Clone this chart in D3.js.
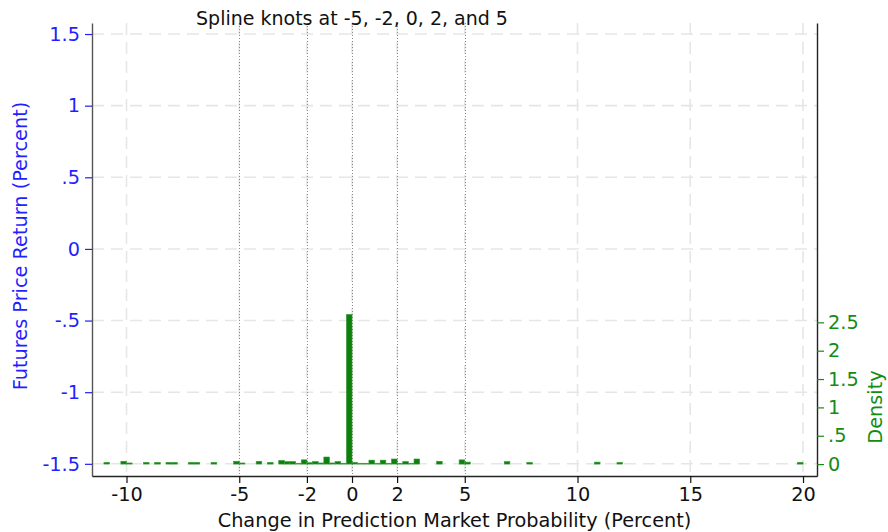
<!DOCTYPE html>
<html>
<head>
<meta charset="utf-8">
<script src="https://cdn.jsdelivr.net/npm/d3@7"></script>
<style>
  html, body { margin: 0; padding: 0; background: #fff; }
  svg { display: block; font-family: "DejaVu Sans", sans-serif; }
</style>
</head>
<body>
<svg id="chart" width="888" height="532"></svg>
<script>
// Axis ticks and spline knot locations
const xTicks = [-10, -5, -2, 0, 2, 5, 10, 15, 20];
const knots = [-5, -2, 0, 2, 5];
const returnTicks = [-1.5, -1, -0.5, 0, 0.5, 1, 1.5];
const densityTicks = [0, 0.5, 1, 1.5, 2, 2.5];

// Histogram of probability changes: bin left edges (percent) and densities
const binWidth = 0.25;
const binStart = [
  -11, -10.25, -10, -9.25, -8.75, -8.25, -8, -7.25, -7, -6.25,
  -5.25, -5, -4.25, -3.75, -3.25, -3, -2.75, -2.5, -2.25, -2,
  -1.75, -1.5, -1.25, -1, -0.75, -0.5, -0.25, 0, 0.25, 0.5,
  0.75, 1, 1.25, 1.5, 1.75, 2, 2.25, 2.5, 2.75, 3.75,
  4.75, 5, 6.75, 7.75, 10.75, 11.75, 19.75
];
const binDensity = [
  0.03, 0.05, 0.02, 0.03, 0.03, 0.03, 0.03, 0.03, 0.03, 0.03,
  0.05, 0.02, 0.05, 0.03, 0.065, 0.045, 0.045, 0.015, 0.075, 0.025,
  0.045, 0.02, 0.125, 0.02, 0.045, 0.015, 2.64, 0.03, 0.015, 0.015,
  0.07, 0.015, 0.07, 0.015, 0.09, 0.01, 0.045, 0.015, 0.09, 0.05,
  0.075, 0.035, 0.045, 0.03, 0.035, 0.03, 0.03
];

const title = "Spline knots at -5, -2, 0, 2, and 5";
const xTitle = "Change in Prediction Market Probability (Percent)";
const yTitle = "Futures Price Return (Percent)";
const densityTitle = "Density";

const BLUE = "#1f1fff";
const GREEN = "#148c14";
const BAR_FILL = "#0c7f0c";
const BAR_STROKE = "#3a9e3a";
const LABEL_SIZE = 19.3;

const plot = { left: 92, right: 817, top: 23, bottom: 476 };

const svg = d3.select("#chart");

const x = d3.scaleLinear().domain([-11.53, 20.62]).range([plot.left, plot.right]);
const yRet = d3.scaleLinear().domain([-1.585, 1.577]).range([plot.bottom, plot.top]);
const yDen = d3.scaleLinear().domain([-0.21, 7.78]).range([plot.bottom, plot.top]);

// Stata-style number labels: ".5" rather than "0.5"
const fmt = v => String(v).replace(/^(-?)0\./, "$1.");

// Grid lines
const grid = svg.append("g")
  .attr("stroke", "#e6e6e6")
  .attr("stroke-width", 1.6)
  .attr("stroke-dasharray", "12,7");
grid.selectAll("line.h").data(returnTicks).join("line")
  .attr("class", "h")
  .attr("x1", plot.left).attr("x2", plot.right)
  .attr("y1", d => yRet(d)).attr("y2", d => yRet(d));
grid.selectAll("line.v").data(xTicks).join("line")
  .attr("class", "v")
  .attr("x1", d => x(d)).attr("x2", d => x(d))
  .attr("y1", plot.top).attr("y2", plot.bottom);

// Knot markers
svg.append("g")
  .attr("stroke", "#8a8a8a")
  .attr("stroke-width", 1)
  .attr("stroke-dasharray", "1,2")
  .selectAll("line").data(knots).join("line")
  .attr("x1", d => Math.round(x(d)) + 0.5).attr("x2", d => Math.round(x(d)) + 0.5)
  .attr("y1", plot.top).attr("y2", plot.bottom);

// Histogram bars
const bins = binStart.map((s, i) => ({ x0: s, x1: s + binWidth, d: binDensity[i] }));
svg.append("g")
  .selectAll("rect").data(bins).join("rect")
  .attr("x", b => x(b.x0))
  .attr("width", b => x(b.x1) - x(b.x0))
  .attr("y", b => yDen(b.d))
  .attr("height", b => yDen(0) - yDen(b.d))
  .attr("fill", BAR_FILL)
  .attr("stroke", BAR_STROKE)
  .attr("stroke-width", 0.6);

// Axes
function styleAxis(g, color, lineColor) {
  g.attr("font-family", "DejaVu Sans, sans-serif").attr("font-size", LABEL_SIZE);
  g.select(".domain").attr("stroke", lineColor).attr("stroke-width", 1.4);
  g.selectAll(".tick line").attr("stroke", color).attr("stroke-width", 1.2);
  g.selectAll(".tick text").attr("fill", color);
}

svg.append("g")
  .attr("transform", `translate(${plot.left},0)`)
  .call(d3.axisLeft(yRet).tickValues(returnTicks).tickFormat(fmt)
    .tickSize(7).tickSizeOuter(0).tickPadding(5))
  .call(g => styleAxis(g, BLUE, "#555"));

svg.append("g")
  .attr("transform", `translate(${plot.right},0)`)
  .call(d3.axisRight(yDen).tickValues(densityTicks).tickFormat(fmt)
    .tickSize(7).tickSizeOuter(0).tickPadding(4))
  .call(g => styleAxis(g, GREEN, "#222"));

svg.append("g")
  .attr("transform", `translate(0,${plot.bottom})`)
  .call(d3.axisBottom(x).tickValues(xTicks).tickFormat(fmt)
    .tickSize(7).tickSizeOuter(0).tickPadding(4))
  .call(g => styleAxis(g, "#111", "#222"));

// Titles
svg.append("text")
  .attr("x", x(0)).attr("y", 25)
  .attr("text-anchor", "middle")
  .attr("font-size", 19)
  .attr("fill", "#111")
  .text(title);

svg.append("text")
  .attr("x", (plot.left + plot.right) / 2).attr("y", 527)
  .attr("text-anchor", "middle")
  .attr("font-size", LABEL_SIZE)
  .attr("fill", "#111")
  .text(xTitle);

svg.append("text")
  .attr("transform", `translate(26.8,246) rotate(-90)`)
  .attr("text-anchor", "middle")
  .attr("font-size", LABEL_SIZE)
  .attr("fill", BLUE)
  .text(yTitle);

svg.append("text")
  .attr("transform", `translate(882,407) rotate(-90)`)
  .attr("text-anchor", "middle")
  .attr("font-size", LABEL_SIZE)
  .attr("fill", GREEN)
  .text(densityTitle);
</script>
</body>
</html>
